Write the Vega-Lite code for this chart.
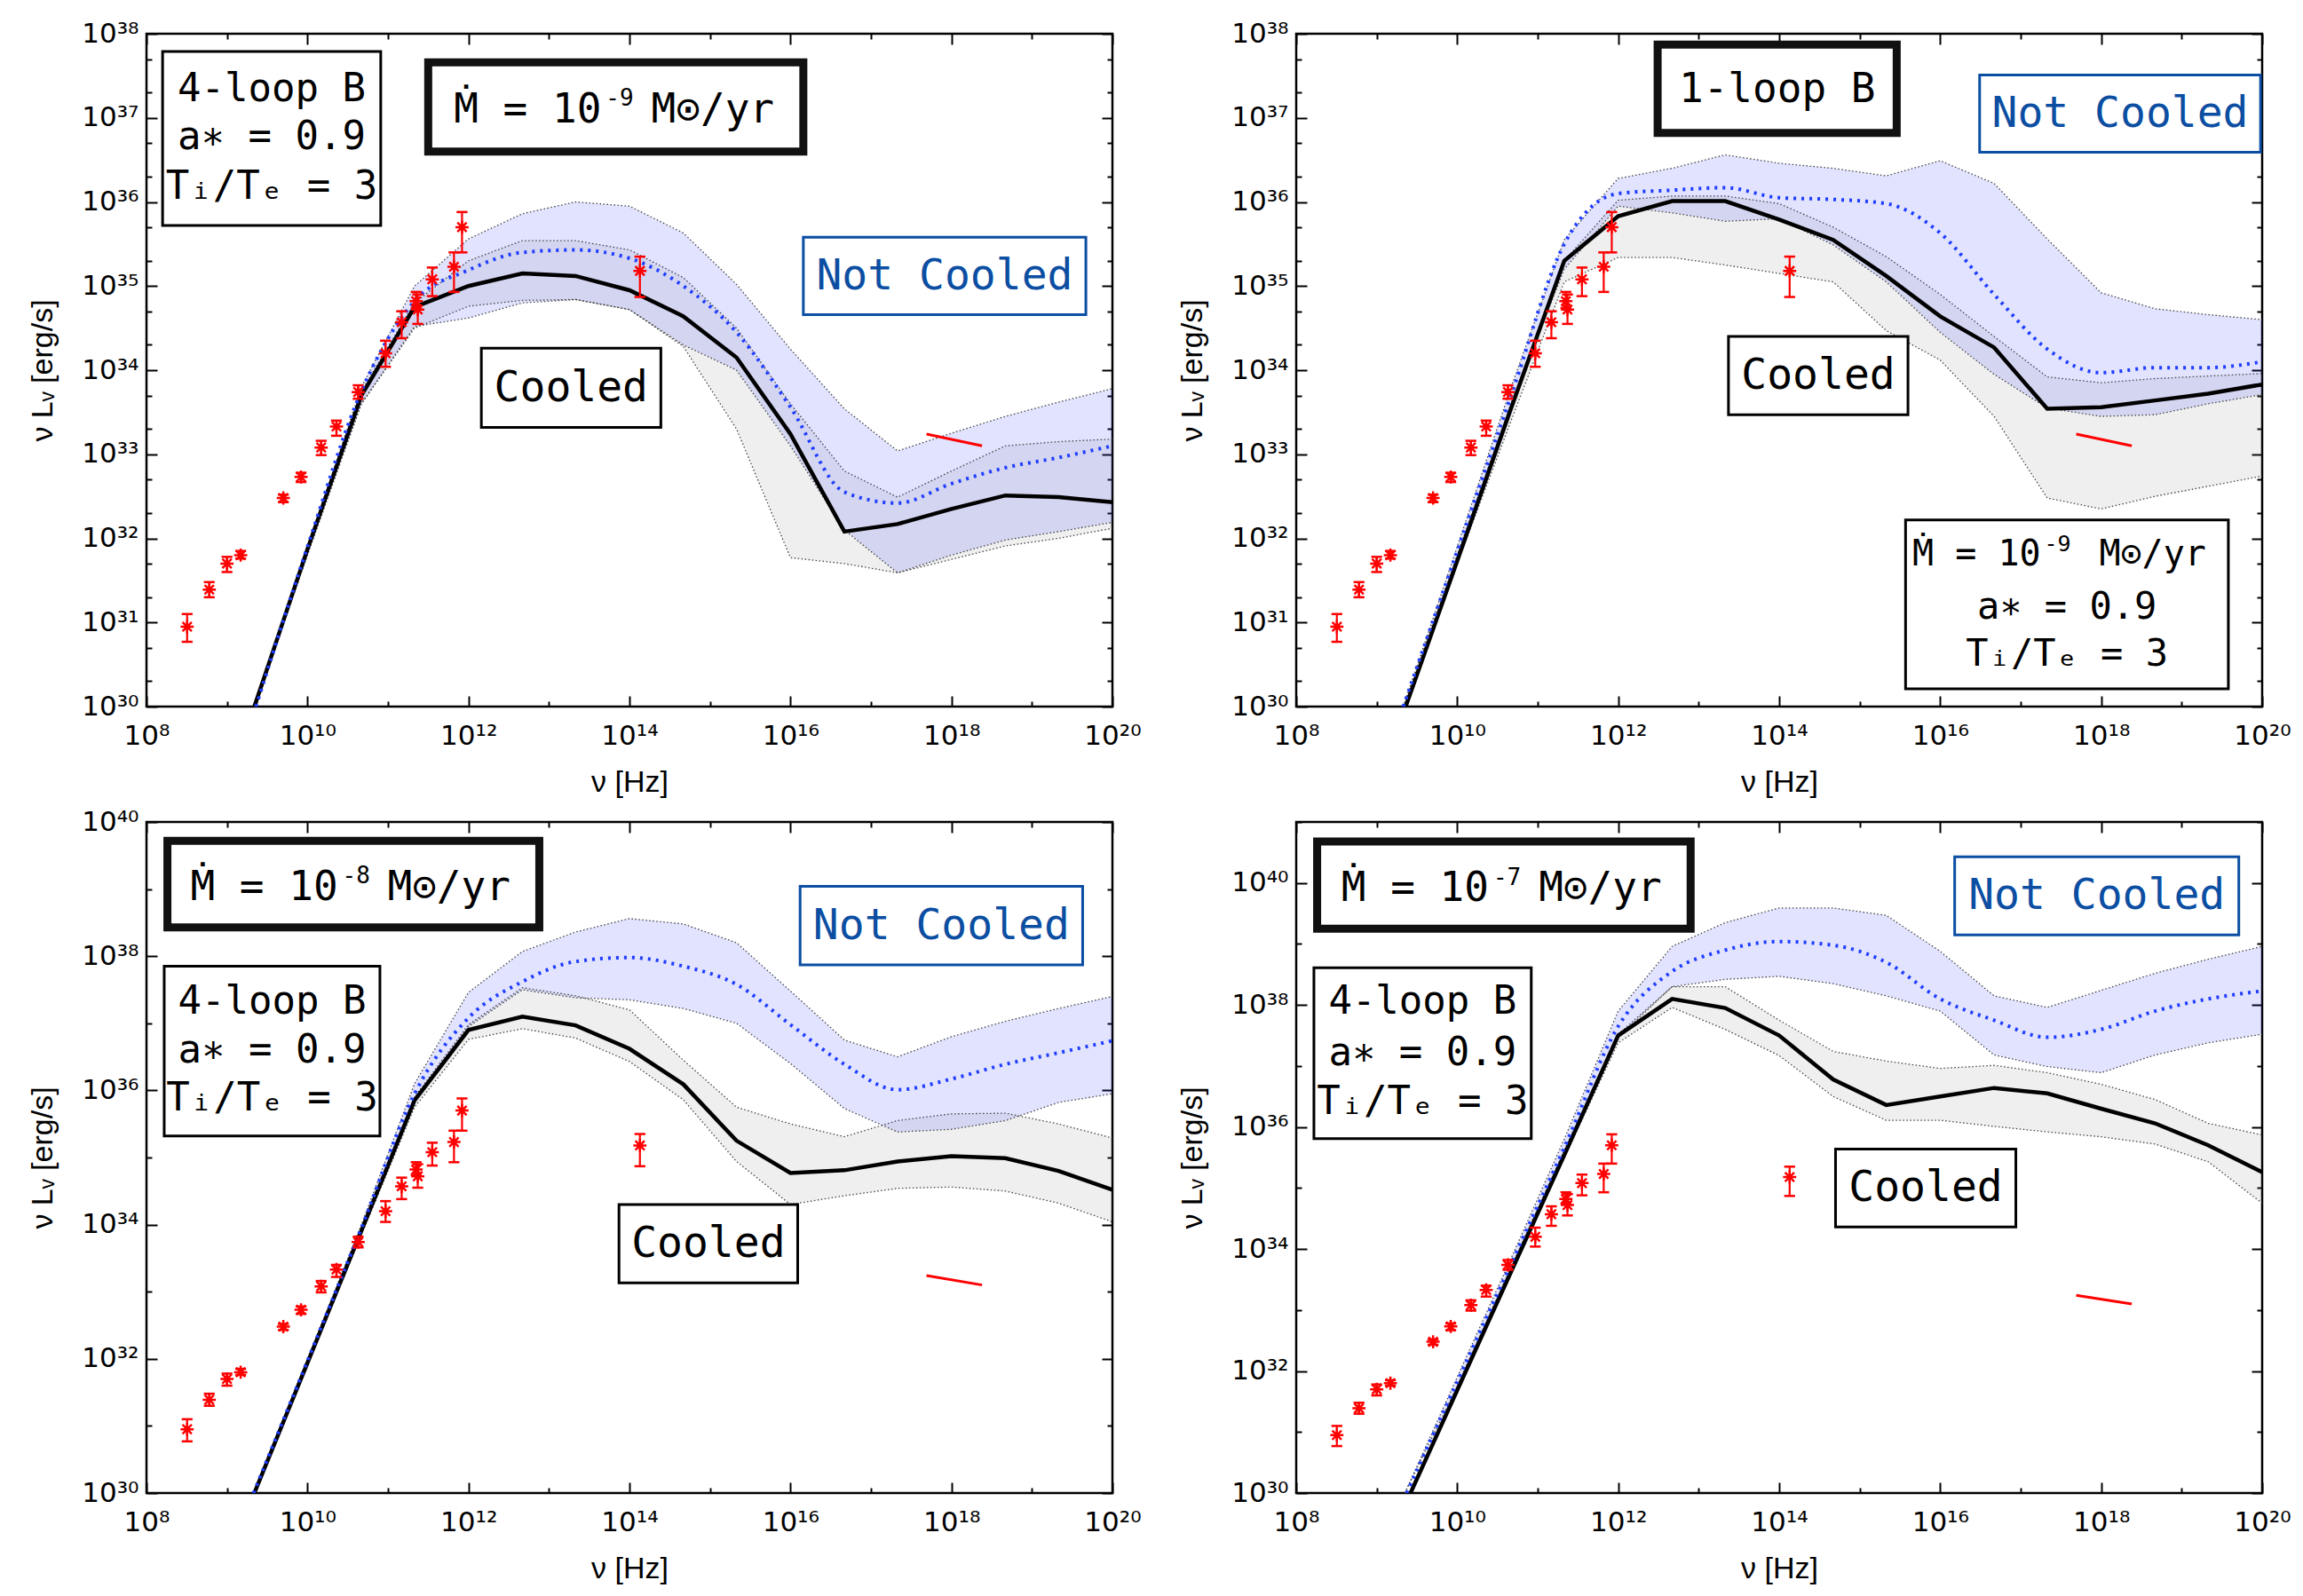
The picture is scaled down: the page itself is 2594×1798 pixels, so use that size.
{
  "$schema": "https://vega.github.io/schema/vega-lite/v6.json",
  "background": "white",
  "padding": {"left": 30, "top": 20, "right": 2, "bottom": 2},
  "config": {
    "view": {"stroke": "black", "strokeWidth": 2.5},
    "font": "Liberation Sans",
    "axis": {"grid": false, "domain": false, "labelFont": "DejaVu Sans", "labelFontSize": 31, "labelColor": "black", "titleFont": "Liberation Sans", "titleFontSize": 34, "titleFontWeight": "normal", "titleColor": "black", "tickColor": "black", "tickWidth": 2, "labelFlush": false, "labelOverlap": false, "labelBound": false}
  },
  "columns": 2,
  "bounds": "flush",
  "spacing": {"row": 130, "column": 207},
  "datasets": {
    "obs": [
      {"nu": 8.505, "L": 30.95, "lo": 30.77, "hi": 31.10},
      {"nu": 8.78, "L": 31.39, "lo": 31.30, "hi": 31.48},
      {"nu": 9.0, "L": 31.70, "lo": 31.60, "hi": 31.78},
      {"nu": 9.17, "L": 31.80, "lo": 31.76, "hi": 31.85},
      {"nu": 9.70, "L": 32.48, "lo": 32.43, "hi": 32.52},
      {"nu": 9.92, "L": 32.73, "lo": 32.67, "hi": 32.78},
      {"nu": 10.17, "L": 33.08, "lo": 32.99, "hi": 33.16},
      {"nu": 10.36, "L": 33.33, "lo": 33.22, "hi": 33.40},
      {"nu": 10.63, "L": 33.74, "lo": 33.66, "hi": 33.82},
      {"nu": 10.97, "L": 34.20, "lo": 34.04, "hi": 34.35},
      {"nu": 11.17, "L": 34.57, "lo": 34.38, "hi": 34.70},
      {"nu": 11.35, "L": 34.82, "lo": 34.74, "hi": 34.93},
      {"nu": 11.37, "L": 34.72, "lo": 34.55, "hi": 34.90},
      {"nu": 11.55, "L": 35.08, "lo": 34.88, "hi": 35.22},
      {"nu": 11.82, "L": 35.23, "lo": 34.93, "hi": 35.40},
      {"nu": 11.92, "L": 35.70, "lo": 35.40, "hi": 35.88},
      {"nu": 14.13, "L": 35.18, "lo": 34.87, "hi": 35.35}
    ],
    "xray": [{"nu": 17.69, "L": 33.24}, {"nu": 18.38, "L": 33.10}],
    "lines": [
      {"panel": "TL", "kind": "cooled", "nu": 9.34, "L": 30.0},
      {"panel": "TL", "kind": "cooled", "nu": 10.0, "L": 31.87},
      {"panel": "TL", "kind": "cooled", "nu": 10.67, "L": 33.7},
      {"panel": "TL", "kind": "cooled", "nu": 11.33, "L": 34.75},
      {"panel": "TL", "kind": "cooled", "nu": 12.0, "L": 35.0},
      {"panel": "TL", "kind": "cooled", "nu": 12.67, "L": 35.15},
      {"panel": "TL", "kind": "cooled", "nu": 13.33, "L": 35.12},
      {"panel": "TL", "kind": "cooled", "nu": 14.0, "L": 34.95},
      {"panel": "TL", "kind": "cooled", "nu": 14.67, "L": 34.64},
      {"panel": "TL", "kind": "cooled", "nu": 15.33, "L": 34.15},
      {"panel": "TL", "kind": "cooled", "nu": 16.0, "L": 33.24},
      {"panel": "TL", "kind": "cooled", "nu": 16.67, "L": 32.08},
      {"panel": "TL", "kind": "cooled", "nu": 17.33, "L": 32.17},
      {"panel": "TL", "kind": "cooled", "nu": 18.0, "L": 32.35},
      {"panel": "TL", "kind": "cooled", "nu": 18.67, "L": 32.51},
      {"panel": "TL", "kind": "cooled", "nu": 19.33, "L": 32.49},
      {"panel": "TL", "kind": "cooled", "nu": 20.0, "L": 32.43},
      {"panel": "TL", "kind": "notcooled", "nu": 9.36, "L": 30.0},
      {"panel": "TL", "kind": "notcooled", "nu": 10.0, "L": 31.9},
      {"panel": "TL", "kind": "notcooled", "nu": 10.67, "L": 33.75},
      {"panel": "TL", "kind": "notcooled", "nu": 11.33, "L": 34.82},
      {"panel": "TL", "kind": "notcooled", "nu": 12.0, "L": 35.19},
      {"panel": "TL", "kind": "notcooled", "nu": 12.67, "L": 35.4},
      {"panel": "TL", "kind": "notcooled", "nu": 13.33, "L": 35.43},
      {"panel": "TL", "kind": "notcooled", "nu": 14.0, "L": 35.33},
      {"panel": "TL", "kind": "notcooled", "nu": 14.67, "L": 35.0},
      {"panel": "TL", "kind": "notcooled", "nu": 15.33, "L": 34.45},
      {"panel": "TL", "kind": "notcooled", "nu": 16.0, "L": 33.56},
      {"panel": "TL", "kind": "notcooled", "nu": 16.67, "L": 32.55},
      {"panel": "TL", "kind": "notcooled", "nu": 17.33, "L": 32.42},
      {"panel": "TL", "kind": "notcooled", "nu": 18.0, "L": 32.65},
      {"panel": "TL", "kind": "notcooled", "nu": 18.67, "L": 32.84},
      {"panel": "TL", "kind": "notcooled", "nu": 19.33, "L": 32.96},
      {"panel": "TL", "kind": "notcooled", "nu": 20.0, "L": 33.1},
      {"panel": "TR", "kind": "cooled", "nu": 9.36, "L": 30.0},
      {"panel": "TR", "kind": "cooled", "nu": 10.0, "L": 31.73},
      {"panel": "TR", "kind": "cooled", "nu": 10.67, "L": 33.55},
      {"panel": "TR", "kind": "cooled", "nu": 11.33, "L": 35.3},
      {"panel": "TR", "kind": "cooled", "nu": 12.0, "L": 35.83},
      {"panel": "TR", "kind": "cooled", "nu": 12.67, "L": 36.01},
      {"panel": "TR", "kind": "cooled", "nu": 13.33, "L": 36.01},
      {"panel": "TR", "kind": "cooled", "nu": 14.0, "L": 35.79},
      {"panel": "TR", "kind": "cooled", "nu": 14.67, "L": 35.55},
      {"panel": "TR", "kind": "cooled", "nu": 15.33, "L": 35.12},
      {"panel": "TR", "kind": "cooled", "nu": 16.0, "L": 34.64},
      {"panel": "TR", "kind": "cooled", "nu": 16.67, "L": 34.27},
      {"panel": "TR", "kind": "cooled", "nu": 17.33, "L": 33.54},
      {"panel": "TR", "kind": "cooled", "nu": 18.0, "L": 33.56},
      {"panel": "TR", "kind": "cooled", "nu": 18.67, "L": 33.64},
      {"panel": "TR", "kind": "cooled", "nu": 19.33, "L": 33.72},
      {"panel": "TR", "kind": "cooled", "nu": 20.0, "L": 33.83},
      {"panel": "TR", "kind": "notcooled", "nu": 9.33, "L": 30.0},
      {"panel": "TR", "kind": "notcooled", "nu": 10.0, "L": 31.85},
      {"panel": "TR", "kind": "notcooled", "nu": 10.67, "L": 33.7},
      {"panel": "TR", "kind": "notcooled", "nu": 11.33, "L": 35.5},
      {"panel": "TR", "kind": "notcooled", "nu": 12.0, "L": 36.1},
      {"panel": "TR", "kind": "notcooled", "nu": 12.67, "L": 36.14},
      {"panel": "TR", "kind": "notcooled", "nu": 13.33, "L": 36.17},
      {"panel": "TR", "kind": "notcooled", "nu": 14.0, "L": 36.05},
      {"panel": "TR", "kind": "notcooled", "nu": 14.67, "L": 36.03},
      {"panel": "TR", "kind": "notcooled", "nu": 15.33, "L": 35.98},
      {"panel": "TR", "kind": "notcooled", "nu": 16.0, "L": 35.63},
      {"panel": "TR", "kind": "notcooled", "nu": 16.67, "L": 34.9},
      {"panel": "TR", "kind": "notcooled", "nu": 17.33, "L": 34.25},
      {"panel": "TR", "kind": "notcooled", "nu": 18.0, "L": 33.97},
      {"panel": "TR", "kind": "notcooled", "nu": 18.67, "L": 34.03},
      {"panel": "TR", "kind": "notcooled", "nu": 19.33, "L": 34.03},
      {"panel": "TR", "kind": "notcooled", "nu": 20.0, "L": 34.1},
      {"panel": "BL", "kind": "cooled", "nu": 9.34, "L": 30.0},
      {"panel": "BL", "kind": "cooled", "nu": 10.0, "L": 31.94},
      {"panel": "BL", "kind": "cooled", "nu": 10.67, "L": 33.91},
      {"panel": "BL", "kind": "cooled", "nu": 11.33, "L": 35.85},
      {"panel": "BL", "kind": "cooled", "nu": 12.0, "L": 36.9},
      {"panel": "BL", "kind": "cooled", "nu": 12.67, "L": 37.1},
      {"panel": "BL", "kind": "cooled", "nu": 13.33, "L": 36.97},
      {"panel": "BL", "kind": "cooled", "nu": 14.0, "L": 36.62},
      {"panel": "BL", "kind": "cooled", "nu": 14.67, "L": 36.09},
      {"panel": "BL", "kind": "cooled", "nu": 15.33, "L": 35.25},
      {"panel": "BL", "kind": "cooled", "nu": 16.0, "L": 34.77},
      {"panel": "BL", "kind": "cooled", "nu": 16.67, "L": 34.81},
      {"panel": "BL", "kind": "cooled", "nu": 17.33, "L": 34.94},
      {"panel": "BL", "kind": "cooled", "nu": 18.0, "L": 35.02},
      {"panel": "BL", "kind": "cooled", "nu": 18.67, "L": 34.99},
      {"panel": "BL", "kind": "cooled", "nu": 19.33, "L": 34.8},
      {"panel": "BL", "kind": "cooled", "nu": 20.0, "L": 34.52},
      {"panel": "BL", "kind": "notcooled", "nu": 9.33, "L": 30.0},
      {"panel": "BL", "kind": "notcooled", "nu": 10.0, "L": 31.97},
      {"panel": "BL", "kind": "notcooled", "nu": 10.67, "L": 33.95},
      {"panel": "BL", "kind": "notcooled", "nu": 11.33, "L": 35.95},
      {"panel": "BL", "kind": "notcooled", "nu": 12.0, "L": 37.08},
      {"panel": "BL", "kind": "notcooled", "nu": 12.67, "L": 37.62},
      {"panel": "BL", "kind": "notcooled", "nu": 13.33, "L": 37.92},
      {"panel": "BL", "kind": "notcooled", "nu": 14.0, "L": 37.98},
      {"panel": "BL", "kind": "notcooled", "nu": 14.67, "L": 37.85},
      {"panel": "BL", "kind": "notcooled", "nu": 15.33, "L": 37.58},
      {"panel": "BL", "kind": "notcooled", "nu": 16.0, "L": 36.98},
      {"panel": "BL", "kind": "notcooled", "nu": 16.67, "L": 36.39},
      {"panel": "BL", "kind": "notcooled", "nu": 17.33, "L": 36.01},
      {"panel": "BL", "kind": "notcooled", "nu": 18.0, "L": 36.17},
      {"panel": "BL", "kind": "notcooled", "nu": 18.67, "L": 36.39},
      {"panel": "BL", "kind": "notcooled", "nu": 19.33, "L": 36.56},
      {"panel": "BL", "kind": "notcooled", "nu": 20.0, "L": 36.74},
      {"panel": "BR", "kind": "cooled", "nu": 9.42, "L": 30.0},
      {"panel": "BR", "kind": "cooled", "nu": 10.67, "L": 33.63},
      {"panel": "BR", "kind": "cooled", "nu": 11.33, "L": 35.54},
      {"panel": "BR", "kind": "cooled", "nu": 12.0, "L": 37.5},
      {"panel": "BR", "kind": "cooled", "nu": 12.67, "L": 38.1},
      {"panel": "BR", "kind": "cooled", "nu": 13.33, "L": 37.95},
      {"panel": "BR", "kind": "cooled", "nu": 14.0, "L": 37.5},
      {"panel": "BR", "kind": "cooled", "nu": 14.67, "L": 36.78},
      {"panel": "BR", "kind": "cooled", "nu": 15.33, "L": 36.36},
      {"panel": "BR", "kind": "cooled", "nu": 16.0, "L": 36.5},
      {"panel": "BR", "kind": "cooled", "nu": 16.67, "L": 36.64},
      {"panel": "BR", "kind": "cooled", "nu": 17.33, "L": 36.55},
      {"panel": "BR", "kind": "cooled", "nu": 18.0, "L": 36.3},
      {"panel": "BR", "kind": "cooled", "nu": 18.67, "L": 36.06},
      {"panel": "BR", "kind": "cooled", "nu": 19.33, "L": 35.7},
      {"panel": "BR", "kind": "cooled", "nu": 20.0, "L": 35.26},
      {"panel": "BR", "kind": "notcooled", "nu": 9.37, "L": 30.0},
      {"panel": "BR", "kind": "notcooled", "nu": 10.67, "L": 33.76},
      {"panel": "BR", "kind": "notcooled", "nu": 11.33, "L": 35.66},
      {"panel": "BR", "kind": "notcooled", "nu": 12.0, "L": 37.65},
      {"panel": "BR", "kind": "notcooled", "nu": 12.67, "L": 38.55},
      {"panel": "BR", "kind": "notcooled", "nu": 13.33, "L": 38.9},
      {"panel": "BR", "kind": "notcooled", "nu": 14.0, "L": 39.04},
      {"panel": "BR", "kind": "notcooled", "nu": 14.67, "L": 38.98},
      {"panel": "BR", "kind": "notcooled", "nu": 15.33, "L": 38.7},
      {"panel": "BR", "kind": "notcooled", "nu": 16.0, "L": 38.1},
      {"panel": "BR", "kind": "notcooled", "nu": 16.67, "L": 37.75},
      {"panel": "BR", "kind": "notcooled", "nu": 17.33, "L": 37.47},
      {"panel": "BR", "kind": "notcooled", "nu": 18.0, "L": 37.6},
      {"panel": "BR", "kind": "notcooled", "nu": 18.67, "L": 37.9},
      {"panel": "BR", "kind": "notcooled", "nu": 19.33, "L": 38.1},
      {"panel": "BR", "kind": "notcooled", "nu": 20.0, "L": 38.23}
    ],
    "bands": [
      {"panel": "TL", "kind": "notcooled", "nu": 9.36, "lo": 30.0, "hi": 30.0},
      {"panel": "TL", "kind": "notcooled", "nu": 10.0, "lo": 31.85, "hi": 31.9},
      {"panel": "TL", "kind": "notcooled", "nu": 10.67, "lo": 33.6, "hi": 33.8},
      {"panel": "TL", "kind": "notcooled", "nu": 11.33, "lo": 34.52, "hi": 35.0},
      {"panel": "TL", "kind": "notcooled", "nu": 12.0, "lo": 34.62, "hi": 35.56},
      {"panel": "TL", "kind": "notcooled", "nu": 12.67, "lo": 34.8, "hi": 35.86},
      {"panel": "TL", "kind": "notcooled", "nu": 13.33, "lo": 34.84, "hi": 36.0},
      {"panel": "TL", "kind": "notcooled", "nu": 14.0, "lo": 34.72, "hi": 35.95},
      {"panel": "TL", "kind": "notcooled", "nu": 14.67, "lo": 34.3, "hi": 35.63},
      {"panel": "TL", "kind": "notcooled", "nu": 15.33, "lo": 34.0, "hi": 35.02},
      {"panel": "TL", "kind": "notcooled", "nu": 16.0, "lo": 33.1, "hi": 34.25},
      {"panel": "TL", "kind": "notcooled", "nu": 16.67, "lo": 32.1, "hi": 33.54},
      {"panel": "TL", "kind": "notcooled", "nu": 17.33, "lo": 31.59, "hi": 33.04},
      {"panel": "TL", "kind": "notcooled", "nu": 18.0, "lo": 31.8, "hi": 33.25},
      {"panel": "TL", "kind": "notcooled", "nu": 18.67, "lo": 31.98, "hi": 33.45},
      {"panel": "TL", "kind": "notcooled", "nu": 19.33, "lo": 32.08, "hi": 33.62},
      {"panel": "TL", "kind": "notcooled", "nu": 20.0, "lo": 32.19, "hi": 33.78},
      {"panel": "TL", "kind": "cooled", "nu": 9.34, "lo": 30.0, "hi": 30.0},
      {"panel": "TL", "kind": "cooled", "nu": 10.0, "lo": 31.8, "hi": 31.9},
      {"panel": "TL", "kind": "cooled", "nu": 10.67, "lo": 33.6, "hi": 33.75},
      {"panel": "TL", "kind": "cooled", "nu": 11.33, "lo": 34.5, "hi": 34.8},
      {"panel": "TL", "kind": "cooled", "nu": 12.0, "lo": 34.76, "hi": 35.3},
      {"panel": "TL", "kind": "cooled", "nu": 12.67, "lo": 34.83, "hi": 35.54},
      {"panel": "TL", "kind": "cooled", "nu": 13.33, "lo": 34.84, "hi": 35.54},
      {"panel": "TL", "kind": "cooled", "nu": 14.0, "lo": 34.72, "hi": 35.43},
      {"panel": "TL", "kind": "cooled", "nu": 14.67, "lo": 34.28, "hi": 35.1},
      {"panel": "TL", "kind": "cooled", "nu": 15.33, "lo": 33.3, "hi": 34.5},
      {"panel": "TL", "kind": "cooled", "nu": 16.0, "lo": 31.77, "hi": 33.6},
      {"panel": "TL", "kind": "cooled", "nu": 16.67, "lo": 31.7, "hi": 32.8},
      {"panel": "TL", "kind": "cooled", "nu": 17.33, "lo": 31.59, "hi": 32.49},
      {"panel": "TL", "kind": "cooled", "nu": 18.0, "lo": 31.75, "hi": 32.8},
      {"panel": "TL", "kind": "cooled", "nu": 18.67, "lo": 31.91, "hi": 33.1},
      {"panel": "TL", "kind": "cooled", "nu": 19.33, "lo": 32.0, "hi": 33.15},
      {"panel": "TL", "kind": "cooled", "nu": 20.0, "lo": 32.12, "hi": 33.18},
      {"panel": "TR", "kind": "notcooled", "nu": 9.33, "lo": 30.0, "hi": 30.0},
      {"panel": "TR", "kind": "notcooled", "nu": 10.0, "lo": 31.8, "hi": 31.9},
      {"panel": "TR", "kind": "notcooled", "nu": 10.67, "lo": 33.6, "hi": 33.8},
      {"panel": "TR", "kind": "notcooled", "nu": 11.33, "lo": 35.2, "hi": 35.55},
      {"panel": "TR", "kind": "notcooled", "nu": 12.0, "lo": 35.95, "hi": 36.28},
      {"panel": "TR", "kind": "notcooled", "nu": 12.67, "lo": 35.87, "hi": 36.4},
      {"panel": "TR", "kind": "notcooled", "nu": 13.33, "lo": 35.77, "hi": 36.56},
      {"panel": "TR", "kind": "notcooled", "nu": 14.0, "lo": 35.8, "hi": 36.46},
      {"panel": "TR", "kind": "notcooled", "nu": 14.67, "lo": 35.49, "hi": 36.4},
      {"panel": "TR", "kind": "notcooled", "nu": 15.33, "lo": 35.05, "hi": 36.31},
      {"panel": "TR", "kind": "notcooled", "nu": 16.0, "lo": 34.45, "hi": 36.49},
      {"panel": "TR", "kind": "notcooled", "nu": 16.67, "lo": 33.95, "hi": 36.22},
      {"panel": "TR", "kind": "notcooled", "nu": 17.33, "lo": 33.55, "hi": 35.56},
      {"panel": "TR", "kind": "notcooled", "nu": 18.0, "lo": 33.45, "hi": 34.92},
      {"panel": "TR", "kind": "notcooled", "nu": 18.67, "lo": 33.47, "hi": 34.73},
      {"panel": "TR", "kind": "notcooled", "nu": 19.33, "lo": 33.6, "hi": 34.66},
      {"panel": "TR", "kind": "notcooled", "nu": 20.0, "lo": 33.71, "hi": 34.6},
      {"panel": "TR", "kind": "cooled", "nu": 9.36, "lo": 30.0, "hi": 30.0},
      {"panel": "TR", "kind": "cooled", "nu": 10.0, "lo": 31.7, "hi": 31.8},
      {"panel": "TR", "kind": "cooled", "nu": 10.67, "lo": 33.4, "hi": 33.6},
      {"panel": "TR", "kind": "cooled", "nu": 11.33, "lo": 35.05, "hi": 35.3},
      {"panel": "TR", "kind": "cooled", "nu": 12.0, "lo": 35.34, "hi": 36.02},
      {"panel": "TR", "kind": "cooled", "nu": 12.67, "lo": 35.34, "hi": 36.07},
      {"panel": "TR", "kind": "cooled", "nu": 13.33, "lo": 35.25, "hi": 36.07},
      {"panel": "TR", "kind": "cooled", "nu": 14.0, "lo": 35.15, "hi": 35.98},
      {"panel": "TR", "kind": "cooled", "nu": 14.67, "lo": 35.05, "hi": 35.7},
      {"panel": "TR", "kind": "cooled", "nu": 15.33, "lo": 34.47, "hi": 35.35},
      {"panel": "TR", "kind": "cooled", "nu": 16.0, "lo": 34.12, "hi": 34.9},
      {"panel": "TR", "kind": "cooled", "nu": 16.67, "lo": 33.45, "hi": 34.4},
      {"panel": "TR", "kind": "cooled", "nu": 17.33, "lo": 32.48, "hi": 33.92},
      {"panel": "TR", "kind": "cooled", "nu": 18.0, "lo": 32.35, "hi": 33.85},
      {"panel": "TR", "kind": "cooled", "nu": 18.67, "lo": 32.5, "hi": 33.9},
      {"panel": "TR", "kind": "cooled", "nu": 19.33, "lo": 32.62, "hi": 33.93},
      {"panel": "TR", "kind": "cooled", "nu": 20.0, "lo": 32.74, "hi": 33.96},
      {"panel": "BL", "kind": "notcooled", "nu": 9.33, "lo": 30.0, "hi": 30.0},
      {"panel": "BL", "kind": "notcooled", "nu": 10.0, "lo": 31.9, "hi": 32.0},
      {"panel": "BL", "kind": "notcooled", "nu": 10.67, "lo": 33.9, "hi": 34.0},
      {"panel": "BL", "kind": "notcooled", "nu": 11.33, "lo": 35.85, "hi": 36.1},
      {"panel": "BL", "kind": "notcooled", "nu": 12.0, "lo": 36.95, "hi": 37.46},
      {"panel": "BL", "kind": "notcooled", "nu": 12.67, "lo": 37.5, "hi": 38.07},
      {"panel": "BL", "kind": "notcooled", "nu": 13.33, "lo": 37.38, "hi": 38.36},
      {"panel": "BL", "kind": "notcooled", "nu": 14.0, "lo": 37.35, "hi": 38.56},
      {"panel": "BL", "kind": "notcooled", "nu": 14.67, "lo": 37.22, "hi": 38.48},
      {"panel": "BL", "kind": "notcooled", "nu": 15.33, "lo": 37.0, "hi": 38.2},
      {"panel": "BL", "kind": "notcooled", "nu": 16.0, "lo": 36.4, "hi": 37.48},
      {"panel": "BL", "kind": "notcooled", "nu": 16.67, "lo": 35.73, "hi": 36.75},
      {"panel": "BL", "kind": "notcooled", "nu": 17.33, "lo": 35.38, "hi": 36.5},
      {"panel": "BL", "kind": "notcooled", "nu": 18.0, "lo": 35.42, "hi": 36.8},
      {"panel": "BL", "kind": "notcooled", "nu": 18.67, "lo": 35.55, "hi": 37.03},
      {"panel": "BL", "kind": "notcooled", "nu": 19.33, "lo": 35.82, "hi": 37.22},
      {"panel": "BL", "kind": "notcooled", "nu": 20.0, "lo": 35.95, "hi": 37.4},
      {"panel": "BL", "kind": "cooled", "nu": 9.34, "lo": 30.0, "hi": 30.0},
      {"panel": "BL", "kind": "cooled", "nu": 10.0, "lo": 31.9, "hi": 31.97},
      {"panel": "BL", "kind": "cooled", "nu": 10.67, "lo": 33.85, "hi": 33.95},
      {"panel": "BL", "kind": "cooled", "nu": 11.33, "lo": 35.75, "hi": 35.9},
      {"panel": "BL", "kind": "cooled", "nu": 12.0, "lo": 36.76, "hi": 36.98},
      {"panel": "BL", "kind": "cooled", "nu": 12.67, "lo": 36.92, "hi": 37.53},
      {"panel": "BL", "kind": "cooled", "nu": 13.33, "lo": 36.78, "hi": 37.41},
      {"panel": "BL", "kind": "cooled", "nu": 14.0, "lo": 36.43, "hi": 37.2},
      {"panel": "BL", "kind": "cooled", "nu": 14.67, "lo": 35.86, "hi": 36.45},
      {"panel": "BL", "kind": "cooled", "nu": 15.33, "lo": 34.94, "hi": 35.75},
      {"panel": "BL", "kind": "cooled", "nu": 16.0, "lo": 34.3, "hi": 35.5},
      {"panel": "BL", "kind": "cooled", "nu": 16.67, "lo": 34.43, "hi": 35.31},
      {"panel": "BL", "kind": "cooled", "nu": 17.33, "lo": 34.54, "hi": 35.55},
      {"panel": "BL", "kind": "cooled", "nu": 18.0, "lo": 34.56, "hi": 35.65},
      {"panel": "BL", "kind": "cooled", "nu": 18.67, "lo": 34.5, "hi": 35.66},
      {"panel": "BL", "kind": "cooled", "nu": 19.33, "lo": 34.32, "hi": 35.5},
      {"panel": "BL", "kind": "cooled", "nu": 20.0, "lo": 34.04, "hi": 35.29},
      {"panel": "BR", "kind": "notcooled", "nu": 9.35, "lo": 30.0, "hi": 30.0},
      {"panel": "BR", "kind": "notcooled", "nu": 10.0, "lo": 31.75, "hi": 31.9},
      {"panel": "BR", "kind": "notcooled", "nu": 10.67, "lo": 33.7, "hi": 33.85},
      {"panel": "BR", "kind": "notcooled", "nu": 11.33, "lo": 35.6, "hi": 35.8},
      {"panel": "BR", "kind": "notcooled", "nu": 12.0, "lo": 37.47, "hi": 37.9},
      {"panel": "BR", "kind": "notcooled", "nu": 12.67, "lo": 38.3, "hi": 38.96},
      {"panel": "BR", "kind": "notcooled", "nu": 13.33, "lo": 38.42, "hi": 39.35},
      {"panel": "BR", "kind": "notcooled", "nu": 14.0, "lo": 38.47, "hi": 39.59},
      {"panel": "BR", "kind": "notcooled", "nu": 14.67, "lo": 38.35, "hi": 39.59},
      {"panel": "BR", "kind": "notcooled", "nu": 15.33, "lo": 38.15, "hi": 39.47},
      {"panel": "BR", "kind": "notcooled", "nu": 16.0, "lo": 37.9, "hi": 38.88},
      {"panel": "BR", "kind": "notcooled", "nu": 16.67, "lo": 37.18, "hi": 38.15},
      {"panel": "BR", "kind": "notcooled", "nu": 17.33, "lo": 36.99, "hi": 37.96},
      {"panel": "BR", "kind": "notcooled", "nu": 18.0, "lo": 36.89, "hi": 38.24},
      {"panel": "BR", "kind": "notcooled", "nu": 18.67, "lo": 37.18, "hi": 38.52},
      {"panel": "BR", "kind": "notcooled", "nu": 19.33, "lo": 37.38, "hi": 38.75},
      {"panel": "BR", "kind": "notcooled", "nu": 20.0, "lo": 37.52, "hi": 38.96},
      {"panel": "BR", "kind": "cooled", "nu": 9.42, "lo": 30.0, "hi": 30.0},
      {"panel": "BR", "kind": "cooled", "nu": 10.0, "lo": 31.65, "hi": 31.75},
      {"panel": "BR", "kind": "cooled", "nu": 10.67, "lo": 33.58, "hi": 33.7},
      {"panel": "BR", "kind": "cooled", "nu": 11.33, "lo": 35.5, "hi": 35.62},
      {"panel": "BR", "kind": "cooled", "nu": 12.0, "lo": 37.38, "hi": 37.52},
      {"panel": "BR", "kind": "cooled", "nu": 12.67, "lo": 37.96, "hi": 38.3},
      {"panel": "BR", "kind": "cooled", "nu": 13.33, "lo": 37.6, "hi": 38.3},
      {"panel": "BR", "kind": "cooled", "nu": 14.0, "lo": 37.17, "hi": 37.75},
      {"panel": "BR", "kind": "cooled", "nu": 14.67, "lo": 36.5, "hi": 37.24},
      {"panel": "BR", "kind": "cooled", "nu": 15.33, "lo": 36.11, "hi": 37.08},
      {"panel": "BR", "kind": "cooled", "nu": 16.0, "lo": 36.11, "hi": 36.96},
      {"panel": "BR", "kind": "cooled", "nu": 16.67, "lo": 36.01, "hi": 37.01},
      {"panel": "BR", "kind": "cooled", "nu": 17.33, "lo": 35.92, "hi": 36.89},
      {"panel": "BR", "kind": "cooled", "nu": 18.0, "lo": 35.84, "hi": 36.7},
      {"panel": "BR", "kind": "cooled", "nu": 18.67, "lo": 35.72, "hi": 36.45},
      {"panel": "BR", "kind": "cooled", "nu": 19.33, "lo": 35.43, "hi": 36.06},
      {"panel": "BR", "kind": "cooled", "nu": 20.0, "lo": 34.75, "hi": 35.87}
    ]
  },
  "concat": [
    {
      "width": 1088, "height": 758,
      "layer": [
        {"data": {"name": "bands"}, "transform": [{"filter": "datum.panel == 'TL' && datum.kind == 'cooled'"}],
         "mark": {"type": "area", "color": "#7a7a7a", "opacity": 0.12, "clip": true},
         "encoding": {
           "x": {"field": "nu", "type": "quantitative", "scale": {"domain": [8, 20], "nice": false, "zero": false},
                 "axis": {"orient": "bottom", "values": [8, 9, 10, 11, 12, 13, 14, 15, 16, 17, 18, 19, 20], "labelExpr": "datum.value % 2 == 0 ? '10' + (datum.value >= 10 ? ['⁰','¹','²','³','⁴','⁵','⁶','⁷','⁸','⁹'][floor(datum.value / 10)] : '') + ['⁰','¹','²','³','⁴','⁵','⁶','⁷','⁸','⁹'][datum.value % 10] : ''", "tickSize": {"condition": {"test": "datum.value % 2 == 0", "value": -12}, "value": -6}, "labelPadding": 30, "labelBaseline": "top", "title": "ν [Hz]", "titlePadding": 14}},
           "y": {"field": "lo", "type": "quantitative", "scale": {"domain": [30, 38], "nice": false, "zero": false},
                 "axis": {"orient": "left", "values": [30, 30.301, 30.699, 31, 31.301, 31.699, 32, 32.301, 32.699, 33, 33.301, 33.699, 34, 34.301, 34.699, 35, 35.301, 35.699, 36, 36.301, 36.699, 37, 37.301, 37.699, 38], "labelExpr": "abs(datum.value - round(datum.value)) < 0.01 ? '10' + ['⁰','¹','²','³','⁴','⁵','⁶','⁷','⁸','⁹'][floor(round(datum.value) / 10)] + ['⁰','¹','²','³','⁴','⁵','⁶','⁷','⁸','⁹'][round(datum.value) % 10] : ''", "tickSize": {"condition": {"test": "abs(datum.value - round(datum.value)) < 0.01", "value": -12}, "value": -6}, "labelPadding": 21, "title": "ν Lᵥ [erg/s]", "titlePadding": 26}},
           "y2": {"field": "hi"}}},
        {"data": {"name": "bands"}, "transform": [{"filter": "datum.panel == 'TL' && datum.kind == 'notcooled'"}],
         "mark": {"type": "area", "color": "#2a3cff", "opacity": 0.14, "clip": true},
         "encoding": {"x": {"field": "nu", "type": "quantitative", "axis": null}, "y": {"field": "lo", "type": "quantitative", "scale": {"domain": [30, 38]}, "axis": null}, "y2": {"field": "hi"}}},
        {"data": {"name": "bands"}, "transform": [{"filter": "datum.panel == 'TL'"}, {"fold": ["lo", "hi"], "as": ["bound", "Lb"]}],
         "mark": {"type": "line", "color": "#444444", "strokeWidth": 1.3, "strokeDash": [1.5, 2.5], "clip": true},
         "encoding": {"x": {"field": "nu", "type": "quantitative", "axis": null}, "y": {"field": "Lb", "type": "quantitative", "scale": {"domain": [30, 38]}, "axis": null}, "detail": [{"field": "kind"}, {"field": "bound"}]}},
        {"data": {"name": "lines"}, "transform": [{"filter": "datum.panel == 'TL' && datum.kind == 'cooled'"}],
         "mark": {"type": "line", "color": "black", "strokeWidth": 4.5, "clip": true},
         "encoding": {"x": {"field": "nu", "type": "quantitative", "axis": null}, "y": {"field": "L", "type": "quantitative", "scale": {"domain": [30, 38]}, "axis": null}}},
        {"data": {"name": "lines"}, "transform": [{"filter": "datum.panel == 'TL' && datum.kind == 'notcooled'"}],
         "mark": {"type": "line", "color": "#1f3dff", "strokeWidth": 4, "strokeDash": [3, 6], "interpolate": "monotone", "clip": true},
         "encoding": {"x": {"field": "nu", "type": "quantitative", "axis": null}, "y": {"field": "L", "type": "quantitative", "scale": {"domain": [30, 38]}, "axis": null}}},
        {"data": {"name": "obs"}, "mark": {"type": "rule", "color": "#ff0000", "strokeWidth": 2.2},
         "encoding": {"x": {"field": "nu", "type": "quantitative", "axis": null}, "y": {"field": "lo", "type": "quantitative", "scale": {"domain": [30, 38]}, "axis": null}, "y2": {"field": "hi"}}},
        {"data": {"name": "obs"}, "mark": {"type": "point", "shape": "M-1,0L1,0", "size": 150, "color": "#ff0000", "filled": false, "strokeWidth": 2.5, "opacity": 1},
         "encoding": {"x": {"field": "nu", "type": "quantitative", "axis": null}, "y": {"field": "lo", "type": "quantitative", "scale": {"domain": [30, 38]}, "axis": null}}},
        {"data": {"name": "obs"}, "mark": {"type": "point", "shape": "M-1,0L1,0", "size": 150, "color": "#ff0000", "filled": false, "strokeWidth": 2.5, "opacity": 1},
         "encoding": {"x": {"field": "nu", "type": "quantitative", "axis": null}, "y": {"field": "hi", "type": "quantitative", "scale": {"domain": [30, 38]}, "axis": null}}},
        {"data": {"name": "obs"}, "mark": {"type": "point", "shape": "M-1,0L1,0M0,-1L0,1M-0.7,-0.7L0.7,0.7M-0.7,0.7L0.7,-0.7", "size": 220, "color": "#ff0000", "filled": false, "strokeWidth": 2.5, "opacity": 1},
         "encoding": {"x": {"field": "nu", "type": "quantitative", "axis": null}, "y": {"field": "L", "type": "quantitative", "scale": {"domain": [30, 38]}, "axis": null}}},
        {"data": {"name": "xray"}, "mark": {"type": "line", "color": "#ff0000", "strokeWidth": 3},
         "encoding": {
           "x": {"field": "nu", "type": "quantitative", "scale": {"domain": [8, 20], "nice": false, "zero": false}, "axis": {"orient": "top", "values": [8, 9, 10, 11, 12, 13, 14, 15, 16, 17, 18, 19, 20], "labels": false, "title": null, "tickSize": {"condition": {"test": "datum.value % 2 == 0", "value": -12}, "value": -6}}},
           "y": {"field": "L", "type": "quantitative", "scale": {"domain": [30, 38]}, "axis": {"orient": "right", "values": [30, 30.301, 30.699, 31, 31.301, 31.699, 32, 32.301, 32.699, 33, 33.301, 33.699, 34, 34.301, 34.699, 35, 35.301, 35.699, 36, 36.301, 36.699, 37, 37.301, 37.699, 38], "labels": false, "title": null, "tickSize": {"condition": {"test": "abs(datum.value - round(datum.value)) < 0.01", "value": -12}, "value": -6}}}}},
        {"data": {"values": [{}]}, "mark": {"type": "rect", "fill": "white", "stroke": "black", "strokeWidth": 3},
         "encoding": {"x": {"datum": 8.2, "type": "quantitative", "axis": null}, "x2": {"datum": 10.91}, "y": {"datum": 35.72, "type": "quantitative", "axis": null}, "y2": {"datum": 37.79}}},
        {"data": {"values": [{}]}, "mark": {"type": "text", "text": "4-loop B", "font": "DejaVu Sans Mono", "fontSize": 44, "align": "center", "baseline": "middle", "color": "black"},
         "encoding": {"x": {"datum": 9.555, "type": "quantitative", "axis": null}, "y": {"datum": 37.34, "type": "quantitative", "axis": null}}},
        {"data": {"values": [{}]}, "mark": {"type": "text", "text": "a∗ = 0.9", "font": "DejaVu Sans Mono", "fontSize": 44, "align": "center", "baseline": "middle", "color": "black"},
         "encoding": {"x": {"datum": 9.555, "type": "quantitative", "axis": null}, "y": {"datum": 36.76, "type": "quantitative", "axis": null}}},
        {"data": {"values": [{}]}, "mark": {"type": "text", "text": "Tᵢ/Tₑ = 3", "font": "DejaVu Sans Mono", "fontSize": 44, "align": "center", "baseline": "middle", "color": "black"},
         "encoding": {"x": {"datum": 9.555, "type": "quantitative", "axis": null}, "y": {"datum": 36.17, "type": "quantitative", "axis": null}}},
        {"data": {"values": [{}]}, "mark": {"type": "rect", "fill": "white", "stroke": "#111111", "strokeWidth": 9},
         "encoding": {"x": {"datum": 11.5, "type": "quantitative", "axis": null}, "x2": {"datum": 16.16}, "y": {"datum": 36.6, "type": "quantitative", "axis": null}, "y2": {"datum": 37.66}}},
        {"data": {"values": [{}]}, "mark": {"type": "text", "text": "Ṁ = 10", "font": "DejaVu Sans Mono", "fontSize": 46, "align": "right", "baseline": "middle", "color": "black"},
         "encoding": {"x": {"datum": 13.651, "type": "quantitative", "axis": null}, "y": {"datum": 37.096, "type": "quantitative", "axis": null}}},
        {"data": {"values": [{}]}, "mark": {"type": "text", "text": "-9", "font": "DejaVu Sans Mono", "fontSize": 26, "align": "left", "baseline": "middle", "color": "black"},
         "encoding": {"x": {"datum": 13.706, "type": "quantitative", "axis": null}, "y": {"datum": 37.23, "type": "quantitative", "axis": null}}},
        {"data": {"values": [{}]}, "mark": {"type": "text", "text": "M⊙/yr", "font": "DejaVu Sans Mono", "fontSize": 46, "align": "left", "baseline": "middle", "color": "black"},
         "encoding": {"x": {"datum": 14.271, "type": "quantitative", "axis": null}, "y": {"datum": 37.096, "type": "quantitative", "axis": null}}},
        {"data": {"values": [{}]}, "mark": {"type": "rect", "fill": "white", "stroke": "#0b4ea2", "strokeWidth": 3},
         "encoding": {"x": {"datum": 16.16, "type": "quantitative", "axis": null}, "x2": {"datum": 19.67}, "y": {"datum": 34.66, "type": "quantitative", "axis": null}, "y2": {"datum": 35.58}}},
        {"data": {"values": [{}]}, "mark": {"type": "text", "text": "Not Cooled", "font": "DejaVu Sans Mono", "fontSize": 48, "align": "center", "baseline": "middle", "color": "#0b4ea2"},
         "encoding": {"x": {"datum": 17.915, "type": "quantitative", "axis": null}, "y": {"datum": 35.11, "type": "quantitative", "axis": null}}},
        {"data": {"values": [{}]}, "mark": {"type": "rect", "fill": "white", "stroke": "black", "strokeWidth": 3},
         "encoding": {"x": {"datum": 12.16, "type": "quantitative", "axis": null}, "x2": {"datum": 14.39}, "y": {"datum": 33.32, "type": "quantitative", "axis": null}, "y2": {"datum": 34.26}}},
        {"data": {"values": [{}]}, "mark": {"type": "text", "text": "Cooled", "font": "DejaVu Sans Mono", "fontSize": 48, "align": "center", "baseline": "middle", "color": "black"},
         "encoding": {"x": {"datum": 13.275, "type": "quantitative", "axis": null}, "y": {"datum": 33.78, "type": "quantitative", "axis": null}}}
      ]
    },
    {
      "width": 1088, "height": 758,
      "layer": [
        {"data": {"name": "bands"}, "transform": [{"filter": "datum.panel == 'TR' && datum.kind == 'cooled'"}],
         "mark": {"type": "area", "color": "#7a7a7a", "opacity": 0.12, "clip": true},
         "encoding": {
           "x": {"field": "nu", "type": "quantitative", "scale": {"domain": [8, 20], "nice": false, "zero": false},
                 "axis": {"orient": "bottom", "values": [8, 9, 10, 11, 12, 13, 14, 15, 16, 17, 18, 19, 20], "labelExpr": "datum.value % 2 == 0 ? '10' + (datum.value >= 10 ? ['⁰','¹','²','³','⁴','⁵','⁶','⁷','⁸','⁹'][floor(datum.value / 10)] : '') + ['⁰','¹','²','³','⁴','⁵','⁶','⁷','⁸','⁹'][datum.value % 10] : ''", "tickSize": {"condition": {"test": "datum.value % 2 == 0", "value": -12}, "value": -6}, "labelPadding": 30, "labelBaseline": "top", "title": "ν [Hz]", "titlePadding": 14}},
           "y": {"field": "lo", "type": "quantitative", "scale": {"domain": [30, 38], "nice": false, "zero": false},
                 "axis": {"orient": "left", "values": [30, 30.301, 30.699, 31, 31.301, 31.699, 32, 32.301, 32.699, 33, 33.301, 33.699, 34, 34.301, 34.699, 35, 35.301, 35.699, 36, 36.301, 36.699, 37, 37.301, 37.699, 38], "labelExpr": "abs(datum.value - round(datum.value)) < 0.01 ? '10' + ['⁰','¹','²','³','⁴','⁵','⁶','⁷','⁸','⁹'][floor(round(datum.value) / 10)] + ['⁰','¹','²','³','⁴','⁵','⁶','⁷','⁸','⁹'][round(datum.value) % 10] : ''", "tickSize": {"condition": {"test": "abs(datum.value - round(datum.value)) < 0.01", "value": -12}, "value": -6}, "labelPadding": 21, "title": "ν Lᵥ [erg/s]", "titlePadding": 26}},
           "y2": {"field": "hi"}}},
        {"data": {"name": "bands"}, "transform": [{"filter": "datum.panel == 'TR' && datum.kind == 'notcooled'"}],
         "mark": {"type": "area", "color": "#2a3cff", "opacity": 0.14, "clip": true},
         "encoding": {"x": {"field": "nu", "type": "quantitative", "axis": null}, "y": {"field": "lo", "type": "quantitative", "scale": {"domain": [30, 38]}, "axis": null}, "y2": {"field": "hi"}}},
        {"data": {"name": "bands"}, "transform": [{"filter": "datum.panel == 'TR'"}, {"fold": ["lo", "hi"], "as": ["bound", "Lb"]}],
         "mark": {"type": "line", "color": "#444444", "strokeWidth": 1.3, "strokeDash": [1.5, 2.5], "clip": true},
         "encoding": {"x": {"field": "nu", "type": "quantitative", "axis": null}, "y": {"field": "Lb", "type": "quantitative", "scale": {"domain": [30, 38]}, "axis": null}, "detail": [{"field": "kind"}, {"field": "bound"}]}},
        {"data": {"name": "lines"}, "transform": [{"filter": "datum.panel == 'TR' && datum.kind == 'cooled'"}],
         "mark": {"type": "line", "color": "black", "strokeWidth": 4.5, "clip": true},
         "encoding": {"x": {"field": "nu", "type": "quantitative", "axis": null}, "y": {"field": "L", "type": "quantitative", "scale": {"domain": [30, 38]}, "axis": null}}},
        {"data": {"name": "lines"}, "transform": [{"filter": "datum.panel == 'TR' && datum.kind == 'notcooled'"}],
         "mark": {"type": "line", "color": "#1f3dff", "strokeWidth": 4, "strokeDash": [3, 6], "interpolate": "monotone", "clip": true},
         "encoding": {"x": {"field": "nu", "type": "quantitative", "axis": null}, "y": {"field": "L", "type": "quantitative", "scale": {"domain": [30, 38]}, "axis": null}}},
        {"data": {"name": "obs"}, "mark": {"type": "rule", "color": "#ff0000", "strokeWidth": 2.2},
         "encoding": {"x": {"field": "nu", "type": "quantitative", "axis": null}, "y": {"field": "lo", "type": "quantitative", "scale": {"domain": [30, 38]}, "axis": null}, "y2": {"field": "hi"}}},
        {"data": {"name": "obs"}, "mark": {"type": "point", "shape": "M-1,0L1,0", "size": 150, "color": "#ff0000", "filled": false, "strokeWidth": 2.5, "opacity": 1},
         "encoding": {"x": {"field": "nu", "type": "quantitative", "axis": null}, "y": {"field": "lo", "type": "quantitative", "scale": {"domain": [30, 38]}, "axis": null}}},
        {"data": {"name": "obs"}, "mark": {"type": "point", "shape": "M-1,0L1,0", "size": 150, "color": "#ff0000", "filled": false, "strokeWidth": 2.5, "opacity": 1},
         "encoding": {"x": {"field": "nu", "type": "quantitative", "axis": null}, "y": {"field": "hi", "type": "quantitative", "scale": {"domain": [30, 38]}, "axis": null}}},
        {"data": {"name": "obs"}, "mark": {"type": "point", "shape": "M-1,0L1,0M0,-1L0,1M-0.7,-0.7L0.7,0.7M-0.7,0.7L0.7,-0.7", "size": 220, "color": "#ff0000", "filled": false, "strokeWidth": 2.5, "opacity": 1},
         "encoding": {"x": {"field": "nu", "type": "quantitative", "axis": null}, "y": {"field": "L", "type": "quantitative", "scale": {"domain": [30, 38]}, "axis": null}}},
        {"data": {"name": "xray"}, "mark": {"type": "line", "color": "#ff0000", "strokeWidth": 3},
         "encoding": {
           "x": {"field": "nu", "type": "quantitative", "scale": {"domain": [8, 20], "nice": false, "zero": false}, "axis": {"orient": "top", "values": [8, 9, 10, 11, 12, 13, 14, 15, 16, 17, 18, 19, 20], "labels": false, "title": null, "tickSize": {"condition": {"test": "datum.value % 2 == 0", "value": -12}, "value": -6}}},
           "y": {"field": "L", "type": "quantitative", "scale": {"domain": [30, 38]}, "axis": {"orient": "right", "values": [30, 30.301, 30.699, 31, 31.301, 31.699, 32, 32.301, 32.699, 33, 33.301, 33.699, 34, 34.301, 34.699, 35, 35.301, 35.699, 36, 36.301, 36.699, 37, 37.301, 37.699, 38], "labels": false, "title": null, "tickSize": {"condition": {"test": "abs(datum.value - round(datum.value)) < 0.01", "value": -12}, "value": -6}}}}},
        {"data": {"values": [{}]}, "mark": {"type": "rect", "fill": "white", "stroke": "#111111", "strokeWidth": 9},
         "encoding": {"x": {"datum": 12.49, "type": "quantitative", "axis": null}, "x2": {"datum": 15.46}, "y": {"datum": 36.82, "type": "quantitative", "axis": null}, "y2": {"datum": 37.87}}},
        {"data": {"values": [{}]}, "mark": {"type": "text", "text": "1-loop B", "font": "DejaVu Sans Mono", "fontSize": 46, "align": "center", "baseline": "middle", "color": "black"},
         "encoding": {"x": {"datum": 13.975, "type": "quantitative", "axis": null}, "y": {"datum": 37.33, "type": "quantitative", "axis": null}}},
        {"data": {"values": [{}]}, "mark": {"type": "rect", "fill": "white", "stroke": "#0b4ea2", "strokeWidth": 3},
         "encoding": {"x": {"datum": 16.49, "type": "quantitative", "axis": null}, "x2": {"datum": 19.98}, "y": {"datum": 36.59, "type": "quantitative", "axis": null}, "y2": {"datum": 37.51}}},
        {"data": {"values": [{}]}, "mark": {"type": "text", "text": "Not Cooled", "font": "DejaVu Sans Mono", "fontSize": 48, "align": "center", "baseline": "middle", "color": "#0b4ea2"},
         "encoding": {"x": {"datum": 18.235, "type": "quantitative", "axis": null}, "y": {"datum": 37.04, "type": "quantitative", "axis": null}}},
        {"data": {"values": [{}]}, "mark": {"type": "rect", "fill": "white", "stroke": "black", "strokeWidth": 3},
         "encoding": {"x": {"datum": 13.37, "type": "quantitative", "axis": null}, "x2": {"datum": 15.6}, "y": {"datum": 33.47, "type": "quantitative", "axis": null}, "y2": {"datum": 34.4}}},
        {"data": {"values": [{}]}, "mark": {"type": "text", "text": "Cooled", "font": "DejaVu Sans Mono", "fontSize": 48, "align": "center", "baseline": "middle", "color": "black"},
         "encoding": {"x": {"datum": 14.485, "type": "quantitative", "axis": null}, "y": {"datum": 33.925, "type": "quantitative", "axis": null}}},
        {"data": {"values": [{}]}, "mark": {"type": "rect", "fill": "white", "stroke": "black", "strokeWidth": 3},
         "encoding": {"x": {"datum": 15.57, "type": "quantitative", "axis": null}, "x2": {"datum": 19.58}, "y": {"datum": 30.21, "type": "quantitative", "axis": null}, "y2": {"datum": 32.22}}},
        {"data": {"values": [{}]}, "mark": {"type": "text", "text": "Ṁ = 10", "font": "DejaVu Sans Mono", "fontSize": 40, "align": "right", "baseline": "middle", "color": "black"},
         "encoding": {"x": {"datum": 17.249, "type": "quantitative", "axis": null}, "y": {"datum": 31.8, "type": "quantitative", "axis": null}}},
        {"data": {"values": [{}]}, "mark": {"type": "text", "text": "-9", "font": "DejaVu Sans Mono", "fontSize": 25, "align": "left", "baseline": "middle", "color": "black"},
         "encoding": {"x": {"datum": 17.293, "type": "quantitative", "axis": null}, "y": {"datum": 31.93, "type": "quantitative", "axis": null}}},
        {"data": {"values": [{}]}, "mark": {"type": "text", "text": "M⊙/yr", "font": "DejaVu Sans Mono", "fontSize": 40, "align": "left", "baseline": "middle", "color": "black"},
         "encoding": {"x": {"datum": 17.975, "type": "quantitative", "axis": null}, "y": {"datum": 31.8, "type": "quantitative", "axis": null}}},
        {"data": {"values": [{}]}, "mark": {"type": "text", "text": "a∗ = 0.9", "font": "DejaVu Sans Mono", "fontSize": 42, "align": "center", "baseline": "middle", "color": "black"},
         "encoding": {"x": {"datum": 17.575, "type": "quantitative", "axis": null}, "y": {"datum": 31.18, "type": "quantitative", "axis": null}}},
        {"data": {"values": [{}]}, "mark": {"type": "text", "text": "Tᵢ/Tₑ = 3", "font": "DejaVu Sans Mono", "fontSize": 42, "align": "center", "baseline": "middle", "color": "black"},
         "encoding": {"x": {"datum": 17.575, "type": "quantitative", "axis": null}, "y": {"datum": 30.62, "type": "quantitative", "axis": null}}}
      ]
    },
    {
      "width": 1088, "height": 756,
      "layer": [
        {"data": {"name": "bands"}, "transform": [{"filter": "datum.panel == 'BL' && datum.kind == 'cooled'"}],
         "mark": {"type": "area", "color": "#7a7a7a", "opacity": 0.12, "clip": true},
         "encoding": {
           "x": {"field": "nu", "type": "quantitative", "scale": {"domain": [8, 20], "nice": false, "zero": false},
                 "axis": {"orient": "bottom", "values": [8, 9, 10, 11, 12, 13, 14, 15, 16, 17, 18, 19, 20], "labelExpr": "datum.value % 2 == 0 ? '10' + (datum.value >= 10 ? ['⁰','¹','²','³','⁴','⁵','⁶','⁷','⁸','⁹'][floor(datum.value / 10)] : '') + ['⁰','¹','²','³','⁴','⁵','⁶','⁷','⁸','⁹'][datum.value % 10] : ''", "tickSize": {"condition": {"test": "datum.value % 2 == 0", "value": -12}, "value": -6}, "labelPadding": 30, "labelBaseline": "top", "title": "ν [Hz]", "titlePadding": 14}},
           "y": {"field": "lo", "type": "quantitative", "scale": {"domain": [30, 40], "nice": false, "zero": false},
                 "axis": {"orient": "left", "values": [30, 31, 32, 33, 34, 35, 36, 37, 38, 39, 40], "labelExpr": "datum.value % 2 == 0 ? '10' + ['⁰','¹','²','³','⁴','⁵','⁶','⁷','⁸','⁹'][floor(datum.value / 10)] + ['⁰','¹','²','³','⁴','⁵','⁶','⁷','⁸','⁹'][datum.value % 10] : ''", "tickSize": {"condition": {"test": "datum.value % 2 == 0", "value": -12}, "value": -6}, "labelPadding": 21, "title": "ν Lᵥ [erg/s]", "titlePadding": 26}},
           "y2": {"field": "hi"}}},
        {"data": {"name": "bands"}, "transform": [{"filter": "datum.panel == 'BL' && datum.kind == 'notcooled'"}],
         "mark": {"type": "area", "color": "#2a3cff", "opacity": 0.14, "clip": true},
         "encoding": {"x": {"field": "nu", "type": "quantitative", "axis": null}, "y": {"field": "lo", "type": "quantitative", "scale": {"domain": [30, 40]}, "axis": null}, "y2": {"field": "hi"}}},
        {"data": {"name": "bands"}, "transform": [{"filter": "datum.panel == 'BL'"}, {"fold": ["lo", "hi"], "as": ["bound", "Lb"]}],
         "mark": {"type": "line", "color": "#444444", "strokeWidth": 1.3, "strokeDash": [1.5, 2.5], "clip": true},
         "encoding": {"x": {"field": "nu", "type": "quantitative", "axis": null}, "y": {"field": "Lb", "type": "quantitative", "scale": {"domain": [30, 40]}, "axis": null}, "detail": [{"field": "kind"}, {"field": "bound"}]}},
        {"data": {"name": "lines"}, "transform": [{"filter": "datum.panel == 'BL' && datum.kind == 'cooled'"}],
         "mark": {"type": "line", "color": "black", "strokeWidth": 4.5, "clip": true},
         "encoding": {"x": {"field": "nu", "type": "quantitative", "axis": null}, "y": {"field": "L", "type": "quantitative", "scale": {"domain": [30, 40]}, "axis": null}}},
        {"data": {"name": "lines"}, "transform": [{"filter": "datum.panel == 'BL' && datum.kind == 'notcooled'"}],
         "mark": {"type": "line", "color": "#1f3dff", "strokeWidth": 4, "strokeDash": [3, 6], "interpolate": "monotone", "clip": true},
         "encoding": {"x": {"field": "nu", "type": "quantitative", "axis": null}, "y": {"field": "L", "type": "quantitative", "scale": {"domain": [30, 40]}, "axis": null}}},
        {"data": {"name": "obs"}, "mark": {"type": "rule", "color": "#ff0000", "strokeWidth": 2.2},
         "encoding": {"x": {"field": "nu", "type": "quantitative", "axis": null}, "y": {"field": "lo", "type": "quantitative", "scale": {"domain": [30, 40]}, "axis": null}, "y2": {"field": "hi"}}},
        {"data": {"name": "obs"}, "mark": {"type": "point", "shape": "M-1,0L1,0", "size": 150, "color": "#ff0000", "filled": false, "strokeWidth": 2.5, "opacity": 1},
         "encoding": {"x": {"field": "nu", "type": "quantitative", "axis": null}, "y": {"field": "lo", "type": "quantitative", "scale": {"domain": [30, 40]}, "axis": null}}},
        {"data": {"name": "obs"}, "mark": {"type": "point", "shape": "M-1,0L1,0", "size": 150, "color": "#ff0000", "filled": false, "strokeWidth": 2.5, "opacity": 1},
         "encoding": {"x": {"field": "nu", "type": "quantitative", "axis": null}, "y": {"field": "hi", "type": "quantitative", "scale": {"domain": [30, 40]}, "axis": null}}},
        {"data": {"name": "obs"}, "mark": {"type": "point", "shape": "M-1,0L1,0M0,-1L0,1M-0.7,-0.7L0.7,0.7M-0.7,0.7L0.7,-0.7", "size": 220, "color": "#ff0000", "filled": false, "strokeWidth": 2.5, "opacity": 1},
         "encoding": {"x": {"field": "nu", "type": "quantitative", "axis": null}, "y": {"field": "L", "type": "quantitative", "scale": {"domain": [30, 40]}, "axis": null}}},
        {"data": {"name": "xray"}, "mark": {"type": "line", "color": "#ff0000", "strokeWidth": 3},
         "encoding": {
           "x": {"field": "nu", "type": "quantitative", "scale": {"domain": [8, 20], "nice": false, "zero": false}, "axis": {"orient": "top", "values": [8, 9, 10, 11, 12, 13, 14, 15, 16, 17, 18, 19, 20], "labels": false, "title": null, "tickSize": {"condition": {"test": "datum.value % 2 == 0", "value": -12}, "value": -6}}},
           "y": {"field": "L", "type": "quantitative", "scale": {"domain": [30, 40]}, "axis": {"orient": "right", "values": [30, 31, 32, 33, 34, 35, 36, 37, 38, 39, 40], "labels": false, "title": null, "tickSize": {"condition": {"test": "datum.value % 2 == 0", "value": -12}, "value": -6}}}}},
        {"data": {"values": [{}]}, "mark": {"type": "rect", "fill": "white", "stroke": "#111111", "strokeWidth": 9},
         "encoding": {"x": {"datum": 8.26, "type": "quantitative", "axis": null}, "x2": {"datum": 12.88}, "y": {"datum": 38.43, "type": "quantitative", "axis": null}, "y2": {"datum": 39.72}}},
        {"data": {"values": [{}]}, "mark": {"type": "text", "text": "Ṁ = 10", "font": "DejaVu Sans Mono", "fontSize": 46, "align": "right", "baseline": "middle", "color": "black"},
         "encoding": {"x": {"datum": 10.378, "type": "quantitative", "axis": null}, "y": {"datum": 39.022, "type": "quantitative", "axis": null}}},
        {"data": {"values": [{}]}, "mark": {"type": "text", "text": "-8", "font": "DejaVu Sans Mono", "fontSize": 26, "align": "left", "baseline": "middle", "color": "black"},
         "encoding": {"x": {"datum": 10.433, "type": "quantitative", "axis": null}, "y": {"datum": 39.19, "type": "quantitative", "axis": null}}},
        {"data": {"values": [{}]}, "mark": {"type": "text", "text": "M⊙/yr", "font": "DejaVu Sans Mono", "fontSize": 46, "align": "left", "baseline": "middle", "color": "black"},
         "encoding": {"x": {"datum": 10.994, "type": "quantitative", "axis": null}, "y": {"datum": 39.022, "type": "quantitative", "axis": null}}},
        {"data": {"values": [{}]}, "mark": {"type": "rect", "fill": "white", "stroke": "black", "strokeWidth": 3},
         "encoding": {"x": {"datum": 8.22, "type": "quantitative", "axis": null}, "x2": {"datum": 10.9}, "y": {"datum": 35.32, "type": "quantitative", "axis": null}, "y2": {"datum": 37.85}}},
        {"data": {"values": [{}]}, "mark": {"type": "text", "text": "4-loop B", "font": "DejaVu Sans Mono", "fontSize": 44, "align": "center", "baseline": "middle", "color": "black"},
         "encoding": {"x": {"datum": 9.56, "type": "quantitative", "axis": null}, "y": {"datum": 37.31, "type": "quantitative", "axis": null}}},
        {"data": {"values": [{}]}, "mark": {"type": "text", "text": "a∗ = 0.9", "font": "DejaVu Sans Mono", "fontSize": 44, "align": "center", "baseline": "middle", "color": "black"},
         "encoding": {"x": {"datum": 9.56, "type": "quantitative", "axis": null}, "y": {"datum": 36.59, "type": "quantitative", "axis": null}}},
        {"data": {"values": [{}]}, "mark": {"type": "text", "text": "Tᵢ/Tₑ = 3", "font": "DejaVu Sans Mono", "fontSize": 44, "align": "center", "baseline": "middle", "color": "black"},
         "encoding": {"x": {"datum": 9.56, "type": "quantitative", "axis": null}, "y": {"datum": 35.87, "type": "quantitative", "axis": null}}},
        {"data": {"values": [{}]}, "mark": {"type": "rect", "fill": "white", "stroke": "#0b4ea2", "strokeWidth": 3},
         "encoding": {"x": {"datum": 16.12, "type": "quantitative", "axis": null}, "x2": {"datum": 19.63}, "y": {"datum": 37.87, "type": "quantitative", "axis": null}, "y2": {"datum": 39.04}}},
        {"data": {"values": [{}]}, "mark": {"type": "text", "text": "Not Cooled", "font": "DejaVu Sans Mono", "fontSize": 48, "align": "center", "baseline": "middle", "color": "#0b4ea2"},
         "encoding": {"x": {"datum": 17.875, "type": "quantitative", "axis": null}, "y": {"datum": 38.44, "type": "quantitative", "axis": null}}},
        {"data": {"values": [{}]}, "mark": {"type": "rect", "fill": "white", "stroke": "black", "strokeWidth": 3},
         "encoding": {"x": {"datum": 13.87, "type": "quantitative", "axis": null}, "x2": {"datum": 16.09}, "y": {"datum": 33.13, "type": "quantitative", "axis": null}, "y2": {"datum": 34.3}}},
        {"data": {"values": [{}]}, "mark": {"type": "text", "text": "Cooled", "font": "DejaVu Sans Mono", "fontSize": 48, "align": "center", "baseline": "middle", "color": "black"},
         "encoding": {"x": {"datum": 14.98, "type": "quantitative", "axis": null}, "y": {"datum": 33.7, "type": "quantitative", "axis": null}}}
      ]
    },
    {
      "width": 1088, "height": 756,
      "layer": [
        {"data": {"name": "bands"}, "transform": [{"filter": "datum.panel == 'BR' && datum.kind == 'cooled'"}],
         "mark": {"type": "area", "color": "#7a7a7a", "opacity": 0.12, "clip": true},
         "encoding": {
           "x": {"field": "nu", "type": "quantitative", "scale": {"domain": [8, 20], "nice": false, "zero": false},
                 "axis": {"orient": "bottom", "values": [8, 9, 10, 11, 12, 13, 14, 15, 16, 17, 18, 19, 20], "labelExpr": "datum.value % 2 == 0 ? '10' + (datum.value >= 10 ? ['⁰','¹','²','³','⁴','⁵','⁶','⁷','⁸','⁹'][floor(datum.value / 10)] : '') + ['⁰','¹','²','³','⁴','⁵','⁶','⁷','⁸','⁹'][datum.value % 10] : ''", "tickSize": {"condition": {"test": "datum.value % 2 == 0", "value": -12}, "value": -6}, "labelPadding": 30, "labelBaseline": "top", "title": "ν [Hz]", "titlePadding": 14}},
           "y": {"field": "lo", "type": "quantitative", "scale": {"domain": [30, 41], "nice": false, "zero": false},
                 "axis": {"orient": "left", "values": [30, 31, 32, 33, 34, 35, 36, 37, 38, 39, 40, 41], "labelExpr": "datum.value % 2 == 0 ? '10' + ['⁰','¹','²','³','⁴','⁵','⁶','⁷','⁸','⁹'][floor(datum.value / 10)] + ['⁰','¹','²','³','⁴','⁵','⁶','⁷','⁸','⁹'][datum.value % 10] : ''", "tickSize": {"condition": {"test": "datum.value % 2 == 0", "value": -12}, "value": -6}, "labelPadding": 21, "title": "ν Lᵥ [erg/s]", "titlePadding": 26}},
           "y2": {"field": "hi"}}},
        {"data": {"name": "bands"}, "transform": [{"filter": "datum.panel == 'BR' && datum.kind == 'notcooled'"}],
         "mark": {"type": "area", "color": "#2a3cff", "opacity": 0.14, "clip": true},
         "encoding": {"x": {"field": "nu", "type": "quantitative", "axis": null}, "y": {"field": "lo", "type": "quantitative", "scale": {"domain": [30, 41]}, "axis": null}, "y2": {"field": "hi"}}},
        {"data": {"name": "bands"}, "transform": [{"filter": "datum.panel == 'BR'"}, {"fold": ["lo", "hi"], "as": ["bound", "Lb"]}],
         "mark": {"type": "line", "color": "#444444", "strokeWidth": 1.3, "strokeDash": [1.5, 2.5], "clip": true},
         "encoding": {"x": {"field": "nu", "type": "quantitative", "axis": null}, "y": {"field": "Lb", "type": "quantitative", "scale": {"domain": [30, 41]}, "axis": null}, "detail": [{"field": "kind"}, {"field": "bound"}]}},
        {"data": {"name": "lines"}, "transform": [{"filter": "datum.panel == 'BR' && datum.kind == 'cooled'"}],
         "mark": {"type": "line", "color": "black", "strokeWidth": 4.5, "clip": true},
         "encoding": {"x": {"field": "nu", "type": "quantitative", "axis": null}, "y": {"field": "L", "type": "quantitative", "scale": {"domain": [30, 41]}, "axis": null}}},
        {"data": {"name": "lines"}, "transform": [{"filter": "datum.panel == 'BR' && datum.kind == 'notcooled'"}],
         "mark": {"type": "line", "color": "#1f3dff", "strokeWidth": 4, "strokeDash": [3, 6], "interpolate": "monotone", "clip": true},
         "encoding": {"x": {"field": "nu", "type": "quantitative", "axis": null}, "y": {"field": "L", "type": "quantitative", "scale": {"domain": [30, 41]}, "axis": null}}},
        {"data": {"name": "obs"}, "mark": {"type": "rule", "color": "#ff0000", "strokeWidth": 2.2},
         "encoding": {"x": {"field": "nu", "type": "quantitative", "axis": null}, "y": {"field": "lo", "type": "quantitative", "scale": {"domain": [30, 41]}, "axis": null}, "y2": {"field": "hi"}}},
        {"data": {"name": "obs"}, "mark": {"type": "point", "shape": "M-1,0L1,0", "size": 150, "color": "#ff0000", "filled": false, "strokeWidth": 2.5, "opacity": 1},
         "encoding": {"x": {"field": "nu", "type": "quantitative", "axis": null}, "y": {"field": "lo", "type": "quantitative", "scale": {"domain": [30, 41]}, "axis": null}}},
        {"data": {"name": "obs"}, "mark": {"type": "point", "shape": "M-1,0L1,0", "size": 150, "color": "#ff0000", "filled": false, "strokeWidth": 2.5, "opacity": 1},
         "encoding": {"x": {"field": "nu", "type": "quantitative", "axis": null}, "y": {"field": "hi", "type": "quantitative", "scale": {"domain": [30, 41]}, "axis": null}}},
        {"data": {"name": "obs"}, "mark": {"type": "point", "shape": "M-1,0L1,0M0,-1L0,1M-0.7,-0.7L0.7,0.7M-0.7,0.7L0.7,-0.7", "size": 220, "color": "#ff0000", "filled": false, "strokeWidth": 2.5, "opacity": 1},
         "encoding": {"x": {"field": "nu", "type": "quantitative", "axis": null}, "y": {"field": "L", "type": "quantitative", "scale": {"domain": [30, 41]}, "axis": null}}},
        {"data": {"name": "xray"}, "mark": {"type": "line", "color": "#ff0000", "strokeWidth": 3},
         "encoding": {
           "x": {"field": "nu", "type": "quantitative", "scale": {"domain": [8, 20], "nice": false, "zero": false}, "axis": {"orient": "top", "values": [8, 9, 10, 11, 12, 13, 14, 15, 16, 17, 18, 19, 20], "labels": false, "title": null, "tickSize": {"condition": {"test": "datum.value % 2 == 0", "value": -12}, "value": -6}}},
           "y": {"field": "L", "type": "quantitative", "scale": {"domain": [30, 41]}, "axis": {"orient": "right", "values": [30, 31, 32, 33, 34, 35, 36, 37, 38, 39, 40, 41], "labels": false, "title": null, "tickSize": {"condition": {"test": "datum.value % 2 == 0", "value": -12}, "value": -6}}}}},
        {"data": {"values": [{}]}, "mark": {"type": "rect", "fill": "white", "stroke": "#111111", "strokeWidth": 9},
         "encoding": {"x": {"datum": 8.26, "type": "quantitative", "axis": null}, "x2": {"datum": 12.9}, "y": {"datum": 39.25, "type": "quantitative", "axis": null}, "y2": {"datum": 40.68}}},
        {"data": {"values": [{}]}, "mark": {"type": "text", "text": "Ṁ = 10", "font": "DejaVu Sans Mono", "fontSize": 46, "align": "right", "baseline": "middle", "color": "black"},
         "encoding": {"x": {"datum": 10.393, "type": "quantitative", "axis": null}, "y": {"datum": 39.904, "type": "quantitative", "axis": null}}},
        {"data": {"values": [{}]}, "mark": {"type": "text", "text": "-7", "font": "DejaVu Sans Mono", "fontSize": 26, "align": "left", "baseline": "middle", "color": "black"},
         "encoding": {"x": {"datum": 10.448, "type": "quantitative", "axis": null}, "y": {"datum": 40.09, "type": "quantitative", "axis": null}}},
        {"data": {"values": [{}]}, "mark": {"type": "text", "text": "M⊙/yr", "font": "DejaVu Sans Mono", "fontSize": 46, "align": "left", "baseline": "middle", "color": "black"},
         "encoding": {"x": {"datum": 11.013, "type": "quantitative", "axis": null}, "y": {"datum": 39.904, "type": "quantitative", "axis": null}}},
        {"data": {"values": [{}]}, "mark": {"type": "rect", "fill": "white", "stroke": "black", "strokeWidth": 3},
         "encoding": {"x": {"datum": 8.22, "type": "quantitative", "axis": null}, "x2": {"datum": 10.92}, "y": {"datum": 35.81, "type": "quantitative", "axis": null}, "y2": {"datum": 38.61}}},
        {"data": {"values": [{}]}, "mark": {"type": "text", "text": "4-loop B", "font": "DejaVu Sans Mono", "fontSize": 44, "align": "center", "baseline": "middle", "color": "black"},
         "encoding": {"x": {"datum": 9.57, "type": "quantitative", "axis": null}, "y": {"datum": 38.04, "type": "quantitative", "axis": null}}},
        {"data": {"values": [{}]}, "mark": {"type": "text", "text": "a∗ = 0.9", "font": "DejaVu Sans Mono", "fontSize": 44, "align": "center", "baseline": "middle", "color": "black"},
         "encoding": {"x": {"datum": 9.57, "type": "quantitative", "axis": null}, "y": {"datum": 37.2, "type": "quantitative", "axis": null}}},
        {"data": {"values": [{}]}, "mark": {"type": "text", "text": "Tᵢ/Tₑ = 3", "font": "DejaVu Sans Mono", "fontSize": 44, "align": "center", "baseline": "middle", "color": "black"},
         "encoding": {"x": {"datum": 9.57, "type": "quantitative", "axis": null}, "y": {"datum": 36.4, "type": "quantitative", "axis": null}}},
        {"data": {"values": [{}]}, "mark": {"type": "rect", "fill": "white", "stroke": "#0b4ea2", "strokeWidth": 3},
         "encoding": {"x": {"datum": 16.18, "type": "quantitative", "axis": null}, "x2": {"datum": 19.71}, "y": {"datum": 39.15, "type": "quantitative", "axis": null}, "y2": {"datum": 40.43}}},
        {"data": {"values": [{}]}, "mark": {"type": "text", "text": "Not Cooled", "font": "DejaVu Sans Mono", "fontSize": 48, "align": "center", "baseline": "middle", "color": "#0b4ea2"},
         "encoding": {"x": {"datum": 17.945, "type": "quantitative", "axis": null}, "y": {"datum": 39.78, "type": "quantitative", "axis": null}}},
        {"data": {"values": [{}]}, "mark": {"type": "rect", "fill": "white", "stroke": "black", "strokeWidth": 3},
         "encoding": {"x": {"datum": 14.7, "type": "quantitative", "axis": null}, "x2": {"datum": 16.94}, "y": {"datum": 34.36, "type": "quantitative", "axis": null}, "y2": {"datum": 35.64}}},
        {"data": {"values": [{}]}, "mark": {"type": "text", "text": "Cooled", "font": "DejaVu Sans Mono", "fontSize": 48, "align": "center", "baseline": "middle", "color": "black"},
         "encoding": {"x": {"datum": 15.82, "type": "quantitative", "axis": null}, "y": {"datum": 34.99, "type": "quantitative", "axis": null}}}
      ]
    }
  ]
}
